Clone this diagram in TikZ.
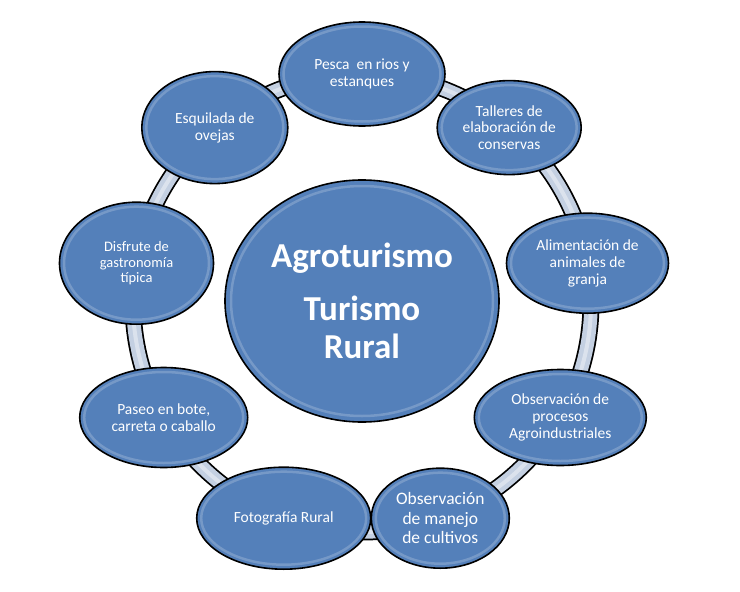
\documentclass[tikz,border=0pt]{standalone}
\usepackage{fontspec}
\setmainfont{Carlito}
\usetikzlibrary{shapes.geometric}
\definecolor{bubble}{RGB}{84,128,186}
\definecolor{ringfill}{RGB}{196,208,226}
\tikzset{
  bub/.style={ellipse, draw=black, line width=1.6pt, fill=bubble, text=white,
    inner sep=0pt, align=center, font=\fontsize{15.5}{16.8}\selectfont},
  gloss/.style={ellipse, draw=white, draw opacity=0.2, line width=2.5pt, inner sep=0pt}
}
\newcommand{\bubble}[6]{%
  \node[bub, minimum width=#3pt, minimum height=#4pt] (#1) at (#2) {#6};
  \node[gloss, minimum width=#3pt-9pt, minimum height=#4pt-9pt] (#1g) at (#2) {};
  \node[#5] at (#2) {};
}
\begin{document}
\begin{tikzpicture}[x=1pt,y=-1pt]
\useasboundingbox (0,0) rectangle (740,592);
\fill[white] (0,0) rectangle (740,592);
\coordinate (c) at (362,303);
% ring
\draw[black, line width=17pt] (c) circle[radius=229];
\draw[ringfill, line width=13.5pt] (c) circle[radius=229];
\draw[white, opacity=0.4, line width=4pt] (c) circle[radius=229];
% center
\node[bub, minimum width=274pt, minimum height=242pt, font=\bfseries\fontsize{35}{38}\selectfont] (center) at (362,301) {Agroturismo\\[15pt]Turismo\\Rural};
\node[gloss, minimum width=262pt, minimum height=230pt] (centerg) at (362,301) {};
% satellites
\bubble{pesca}{362,74}{166}{104}{}{Pesca\ \ en rios y\\estanques}
\bubble{talleres}{509.2,127.6}{144}{94}{}{Talleres de\\elaboración de\\conservas}
\bubble{alim}{587.5,263.2}{162}{100}{}{Alimentación de\\animales de\\granja}
\bubble{proc}{560.3,417.5}{172}{96}{}{Observación de\\procesos\\Agroindustriales}
\node[bub, minimum width=138pt, minimum height=100pt, font=\fontsize{17.5}{19.5}\selectfont] (manejo) at (440.3,518.2) {Observación\\de manejo\\de cultivos};
\node[gloss, minimum width=129pt, minimum height=91pt] (manejog) at (440.3,518.2) {};
\bubble{foto}{283.7,518.2}{174}{102}{}{Fotografía Rural}
\bubble{paseo}{163.7,417.5}{168}{100}{}{Paseo en bote,\\carreta o caballo}
\node[bub, minimum width=154pt, minimum height=122pt, font=\fontsize{14.5}{15.5}\selectfont] (disfrute) at (136.5,263.2) {Disfrute de\\gastronomía\\típica};
\node[gloss, minimum width=145pt, minimum height=113pt] (disfruteg) at (136.5,263.2) {};
\bubble{esquilada}{214.8,127.6}{146}{112}{}{Esquilada de\\ovejas}
\end{tikzpicture}
\end{document}
